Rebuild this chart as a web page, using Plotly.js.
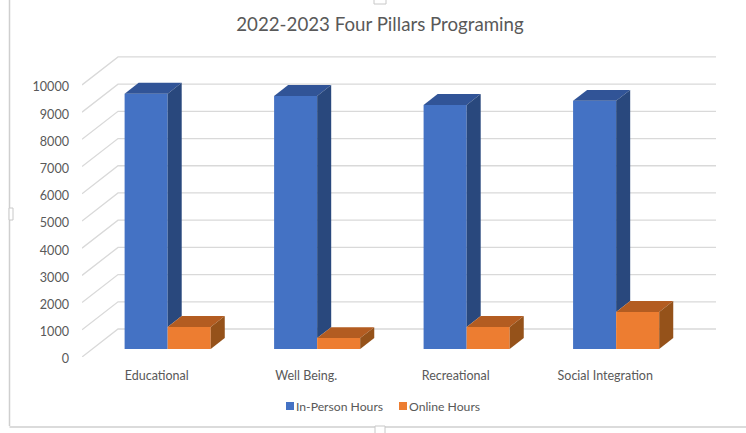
<!DOCTYPE html>
<html>
<head>
<meta charset="utf-8">
<script src="https://cdn.plot.ly/plotly-3.0.1.min.js"></script>
<style>html,body{margin:0;padding:0;background:#fff}#chart{width:746px;height:433px}</style>
</head>
<body>
<div id="chart"></div>
<script>
const categories = ['Educational', 'Well Being.', 'Recreational', 'Social Integration'];
const inPersonHours = [9380, 9300, 8970, 9120];
const onlineHours = [810, 400, 810, 1360];
const yTicks = [0, 1000, 2000, 3000, 4000, 5000, 6000, 7000, 8000, 9000, 10000];

// Oblique projection: depth is a shift along x (category units) and y (value units).
const WALL_DX = 0.241, WALL_DY = 1029;
const BAR_DX = 0.094, BAR_DY = 404;
const LIFT_DX = 0.073, LIFT_DY = 294;
const BAR_W = 0.288;
const xs = categories.map((_, i) => i);

const FRONT = {blue: '#4472c4', orange: '#ed7d31'};
const TOP = {blue: '#315497', orange: '#b35c21'};
const SIDE = {blue: '#29487d', orange: '#95521a'};
const GRID = '#d9d9d9';

// Back wall and left wall grid lines, kept under all traces.
const gridShapes = yTicks.map(v => ({
  type: 'path', xref: 'x', yref: 'y', layer: 'below',
  line: {color: GRID, width: 1.3},
  path: `M${-0.5},${v}L${-0.5 + WALL_DX},${v + WALL_DY}L${3.5 + WALL_DX},${v + WALL_DY}`
}));

function poly(xsP, ysP, color) {
  return {type: 'scatter', mode: 'lines', x: xsP.concat(xsP[0]), y: ysP.concat(ysP[0]),
    fill: 'toself', fillcolor: color, line: {width: 0, color: color},
    showlegend: false, hoverinfo: 'skip'};
}

// Top and right faces of a box whose front face spans x0..x1 and low..high.
function topFace(x0, x1, high, color) {
  const h = high + LIFT_DY;
  return poly([x0, x1, x1 + BAR_DX, x0 + BAR_DX], [h, h, h + BAR_DY, h + BAR_DY], color);
}
function sideFace(x1, low, high, color) {
  const l = low + LIFT_DY, h = high + LIFT_DY;
  return poly([x1, x1 + BAR_DX, x1 + BAR_DX, x1], [l, l + BAR_DY, h + BAR_DY, h], color);
}

const faces = [];
xs.forEach((x, i) => {
  const mid = x + LIFT_DX;
  faces.push(topFace(mid - BAR_W, mid, inPersonHours[i], TOP.blue));
  // Only the part of the blue side above the orange box is visible.
  faces.push(sideFace(mid, onlineHours[i], inPersonHours[i], SIDE.blue));
  faces.push(topFace(mid, mid + BAR_W, onlineHours[i], TOP.orange));
  faces.push(sideFace(mid + BAR_W, 0, onlineHours[i], SIDE.orange));
});

const bars = [
  {type: 'bar', name: 'In-Person Hours', x: xs, y: inPersonHours, base: LIFT_DY,
   width: BAR_W, offset: LIFT_DX - BAR_W, marker: {color: FRONT.blue}, hoverinfo: 'y+name'},
  {type: 'bar', name: 'Online Hours', x: xs, y: onlineHours, base: LIFT_DY,
   width: BAR_W, offset: LIFT_DX, marker: {color: FRONT.orange}, hoverinfo: 'y+name'}
];

// Paper-space helpers for the surrounding frame, given in pixels.
const px = x => (x - 82) / 634;
const py = y => (357 - y) / 302;
const frameLine = (x0, y0, x1, y1) => ({type: 'line', xref: 'paper', yref: 'paper', layer: 'below',
  line: {color: '#cfcfcf', width: 1.5}, x0: px(x0), y0: py(y0), x1: px(x1), y1: py(y1)});
const handle = (x0, y0, x1, y1) => ({type: 'rect', xref: 'paper', yref: 'paper', layer: 'below',
  line: {color: '#c8c8c8', width: 1}, fillcolor: '#fff', x0: px(x0), y0: py(y0), x1: px(x1), y1: py(y1)});

const layout = {
  width: 746, height: 433,
  margin: {l: 82, r: 30, t: 55, b: 76},
  paper_bgcolor: '#fff', plot_bgcolor: 'rgba(0,0,0,0)',
  barmode: 'overlay',
  font: {family: 'Lato, "Open Sans", sans-serif', color: '#595959', size: 12.5},
  title: {text: '2022-2023 Four Pillars Programing', x: 380 / 746, xanchor: 'center',
          y: 1 - 24 / 433, yanchor: 'middle', font: {size: 18.7, color: '#595959'}},
  xaxis: {range: [-0.5, 3.741], tickvals: xs, ticktext: categories, showgrid: false,
          zeroline: false, showline: false, ticks: '', ticklabelstandoff: 9, fixedrange: true},
  yaxis: {range: [0, 11100], tickvals: yTicks, tickformat: 'd', showgrid: false, zeroline: false,
          showline: false, ticks: '', ticklabelstandoff: 12, ticklabelshift: 2, fixedrange: true,
          tickfont: {size: 12.6}},
  legend: {orientation: 'h', x: 369 / 746, xanchor: 'center', y: 1 - 406 / 433, yanchor: 'middle',
           xref: 'container', yref: 'container', itemclick: false, itemdoubleclick: false,
           entrywidth: 68, entrywidthmode: 'pixels',
           font: {size: 12.2, color: '#595959'}},
  shapes: gridShapes.concat([
    frameLine(9.5, -2, 9.5, 426),
    frameLine(9.5, 427, 748, 427),
    handle(374, -4, 386, 4),
    handle(9, 208, 13, 220),
    handle(375, 426, 385, 434)
  ])
};

// Small legend keys placed right next to their labels.
function tightenLegendKeys(gd) {
  gd.querySelectorAll('.legend .traces .legendpoints path').forEach(p => {
    p.setAttribute('d', 'M4,4H-4V-4H4Z');
    p.setAttribute('transform', 'translate(34,0)');
  });
}

const chart = document.getElementById('chart');
Plotly.newPlot(chart, faces.concat(bars), layout, {displayModeBar: false}).then(gd => {
  tightenLegendKeys(gd);
  gd.on('plotly_afterplot', () => tightenLegendKeys(gd));
  setTimeout(() => tightenLegendKeys(gd), 0);
});
</script>
</body>
</html>
